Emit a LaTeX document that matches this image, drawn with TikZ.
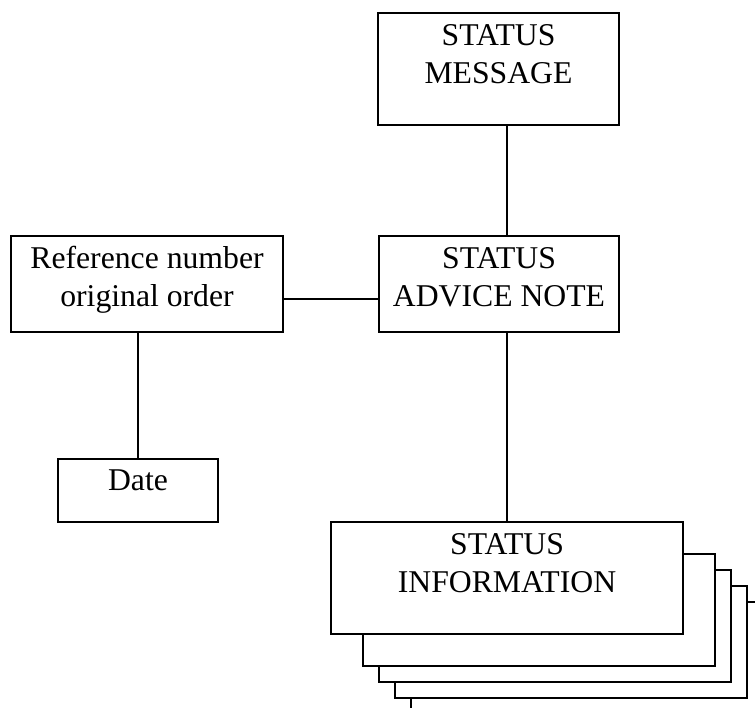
\documentclass[tikz,border=0pt]{standalone}
\usepackage{fontspec}
\setmainfont{Liberation Serif}
\usetikzlibrary{calc}
\begin{document}
\begin{tikzpicture}[x=1pt,y=-1pt,
  box/.style={draw,line width=1.5pt,fill=white,inner sep=0pt,outer sep=0pt},
  lbl/.style={anchor=north,inner sep=0pt,align=center,
    font=\fontsize{31.7}{38}\selectfont},
  link/.style={line width=1.5pt}]
\useasboundingbox[fill=white] (0,0) rectangle (755,708);

% boxes
\node[box,minimum width=241pt,minimum height=112pt] (msg) at (498.5,69) {};
\node[box,minimum width=240pt,minimum height=96pt] (adv) at (499,284) {};
\node[box,minimum width=272pt,minimum height=96pt] (ref) at (147,284) {};
\node[box,minimum width=160pt,minimum height=63pt] (date) at (138,490.5) {};

% stacked sheets behind the information box
\begin{scope}
\clip (0,0) rectangle (755,708);
\node[box,minimum width=352pt,minimum height=112pt] (sheet4) at (587,658) {};
\node[box,minimum width=352pt,minimum height=112pt] (sheet3) at (571,642) {};
\node[box,minimum width=352pt,minimum height=112pt] (sheet2) at (555,626) {};
\node[box,minimum width=352pt,minimum height=112pt] (sheet1) at (539,610) {};
\end{scope}
\node[box,minimum width=352pt,minimum height=112pt] (info) at (507,578) {};

% labels
\node[lbl] (msgt) at ($(msg.north)+(0,11)$) {STATUS\\MESSAGE};
\node[lbl] (advt) at ($(adv.north)+(0,11)$) {STATUS\\ADVICE NOTE};
\node[lbl] (reft) at ($(ref.north)+(0,10)$) {Reference number\\original order};
\node[lbl] (datet) at ($(date.north)+(0,11)$) {Date};
\node[lbl] (infot) at ($(info.north)+(0,11)$) {STATUS\\INFORMATION};

% connectors
\draw[link] (info.north |- msg.south) -- (info.north |- adv.north);
\draw[link] (info.north |- adv.south) -- (info.north);
\coordinate (refside) at ($(ref.east)+(0,15)$);
\draw[link] (refside) -- (refside -| adv.west);
\draw[link] (date.north |- ref.south) -- (date.north);
\end{tikzpicture}
\end{document}
